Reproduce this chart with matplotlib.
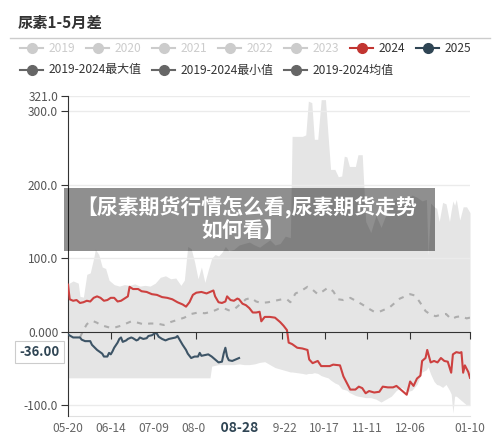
import matplotlib
matplotlib.use('Agg')
import matplotlib.pyplot as plt
import matplotlib.transforms as mtransforms
from matplotlib.lines import Line2D
from matplotlib.patches import Rectangle
import pandas as pd

plt.rcParams['font.family'] = ['Noto Sans CJK SC', 'DejaVu Sans']

# ---- data (x = days since 05-20) ----
title = '尿素1-5月差'
banner = ['【尿素期货行情怎么看,尿素期货走势', '如何看】']
dates = pd.date_range('2024-05-20', '2025-01-10')
tick_dates = ['05-20', '06-14', '07-09', '08-03', '08-28', '09-22', '10-17',
              '11-11', '12-06', '01-10']
label_dates = ['05-20', '06-14', '07-09', '08-03', '09-22', '10-17',
               '11-11', '12-06', '01-10']
cursor_date = '08-28'
cursor_value = -36.00

y_ticks = [-100, 0, 100, 200, 300, 321]
y_labels = ['-100.0', '0.000', '100.0', '200.0', '300.0', '321.0']

legend_row1 = ['2019', '2020', '2021', '2022', '2023', '2024', '2025']
legend_row1_colors = ['#cccccc'] * 5 + ['#c23531', '#2f4554']
legend_row2 = ['2019-2024最大值', '2019-2024最小值', '2019-2024均值']

red_days = [0, 1, 3, 5, 7, 9, 11, 13, 15, 17, 19, 21, 23, 25, 27, 29, 31, 33, 35, 36,
            38, 41, 43, 46, 49, 52, 55, 58, 61, 64, 67, 69, 71, 73, 75, 78, 81, 83, 85, 86,
            88, 90, 92, 93, 95, 97, 99, 100, 102, 104, 106, 108, 110, 112, 113, 115, 118,
            121, 124, 126, 128, 129, 131, 134, 137, 140, 141, 143, 146, 148, 151, 153, 155,
            159, 161, 163, 165, 168, 170, 172, 174, 176, 179, 182, 184, 187, 190, 192, 194,
            196, 198, 200, 202, 204, 206, 207, 209, 210, 212, 214, 216, 218, 220, 222, 224,
            225, 227, 229, 230, 231, 232, 234, 235]
red_vals = [64, 44, 42, 43, 39, 40, 42, 41, 46, 48, 46, 42, 43, 46, 46, 41, 42, 45, 48, 61,
            58, 58, 55, 54, 51, 50, 47, 46, 44, 40, 37, 34, 40, 50, 53, 54, 52, 54, 56, 48,
            40, 39, 41, 48, 43, 42, 45, 44, 38, 36, 32, 26, 26, 27, 14, 20, 20,
            19, 13, 8, 2, -15, -17, -22, -23, -25, -38, -43, -40, -47, -47, -47, -45,
            -46, -61, -70, -79, -79, -75, -77, -84, -81, -83, -82, -75, -76, -76, -74, -78,
            -82, -86, -68, -74, -64, -60, -40, -36, -25, -42, -40, -42, -36, -40, -41, -56,
            -31, -28, -29, -28, -56, -46, -55, -63]

navy_days = [0, 3, 7, 8, 10, 13, 14, 17, 20, 21, 23, 24, 25, 26, 27, 29, 30, 31, 32, 34,
             35, 37, 38, 40, 41, 42, 44, 46, 47, 49, 51, 52, 53, 55, 57, 59, 61, 63, 64, 65,
             67, 69, 70, 72, 74, 76, 77, 78, 80, 82, 84, 86, 88, 90, 91, 92, 93, 94, 96, 98,
             100]
navy_vals = [-4, -8, -8, -11, -13, -13, -18, -25, -30, -34, -34, -29, -31, -27, -22, -15,
             -10, -8, -14, -12, -10, -8, -9, -12, -11, -8, -10, -9, -6, -5, -2, -3, -7, -10,
             -12, -10, -9, -8, -6, -10, -18, -25, -30, -36, -34, -34, -29, -33, -32, -31,
             -34, -38, -42, -41, -30, -22, -34, -39, -40, -38, -36]

mean_days = [7, 9, 11, 13, 15, 17, 19, 22, 25, 28, 31, 34, 37, 41, 44, 48, 52, 56, 60, 64,
             68, 72, 76, 80, 84, 88, 91, 94, 97, 101, 104, 107, 110, 113, 117, 121, 125, 128,
             130, 133, 136, 140, 143, 146, 149, 152, 155, 158, 161, 165, 169, 172, 176, 179,
             182, 185, 188, 191, 194, 197, 200, 203, 206, 209, 212, 215, 218, 221, 224, 227,
             230, 233, 235]
mean_vals = [-8, 2, 10, 14, 14, 12, 9, 7, 5, 6, 8, 11, 14, 12, 10, 11, 11, 9, 13, 16,
             19, 24, 26, 25, 27, 31, 32, 29, 30, 38, 44, 46, 41, 39, 40, 42, 44, 44,
             40, 52, 55, 61, 57, 51, 55, 60, 55, 44, 43, 46, 41, 37, 31, 27,
             27, 30, 33, 39, 45, 48, 51, 49, 39, 28, 23, 21, 23, 24, 17, 20,
             21, 18, 19]

band_days = [0, 3, 6, 7, 9, 11, 13, 15, 16, 18,
             20, 22, 24, 27, 30, 33, 36, 39, 42, 45,
             48, 51, 54, 57, 60, 63, 66, 68, 70, 72,
             74, 76, 78, 80, 82, 83, 84, 86, 88, 90,
             92, 94, 97, 100, 103, 106, 109, 112, 115, 118,
             121, 124, 127, 130, 131, 134, 137, 139, 140.5, 142.5,
             144, 146, 148, 150.5, 152, 153.5, 156, 158, 160, 161.5,
             163, 164.5, 168, 169.5, 172, 174, 177, 180, 183, 186,
             189, 192, 195, 198, 201, 204, 207, 209.5, 210.5, 212,
             214, 215.5, 217, 219, 221, 223, 224, 225, 226, 227,
             229, 231, 233, 235]
max_vals = [65, 69, 66, 48, 47, 78, 80, 100, 112, 105,
            88, 86, 70, 64, 62, 64, 63, 65, 62, 63,
            62, 66, 74, 76, 72, 73, 63, 70, 116, 113,
            95, 72, 88, 67, 84, 92, 100, 105, 103, 108,
            116, 110, 112, 118, 120, 122, 118, 115, 120, 125,
            118, 120, 130, 128, 266, 266, 266, 268, 314, 312,
            262, 262, 316, 316, 268, 221, 221, 211, 212, 239,
            238, 225, 225, 241, 241, 150, 135, 158, 142, 160,
            175, 182, 185, 178, 186, 183, 178, 180, 104, 175,
            170, 168, 150, 176, 174, 150, 165, 178, 172, 180,
            152, 170, 170, 162]
min_vals = [-63, -63, -63, -63, -63, -63, -63, -63, -63, -63,
            -63, -63, -63, -63, -63, -63, -63, -63, -63, -63,
            -63, -63, -63, -63, -63, -63, -63, -63, -63, -63,
            -63, -63, -63, -63, -63, -63, -47, -46, -45, -45,
            -45, -45, -45, -44, -45, -45, -44, -42, -41, -45,
            -49, -51, -53, -55, -55, -56, -57, -58, -57, -57,
            -56, -57, -60, -62, -63, -66, -70, -72, -78, -79,
            -80, -83, -87, -88, -89, -90, -90, -92, -96, -92,
            -88, -80, -76, -82, -80, -72, -55, -52, -48, -58,
            -68, -72, -73, -76, -72, -80, -85, -111, -88, -88,
            -92, -96, -100, -101]

day_of = {d.strftime('%m-%d'): i for i, d in enumerate(dates)}

# ---- figure ----
fig = plt.figure(figsize=(5, 4.4), dpi=100)
ax = fig.add_axes([68 / 500, 24 / 440, 402 / 500, 320 / 440])
ax.set_xlim(0, len(dates) - 1)
ax.set_ylim(-115, 321)

ax.fill_between(band_days, min_vals, max_vals, color='#e5e5e5', lw=0, zorder=1)
for v in y_ticks:
    if v != 0:
        ax.axhline(v, color='#ebebeb', lw=1, zorder=2)

ax.plot(mean_days, mean_vals, color='#adadad', lw=1.5, dashes=(2.5, 3), zorder=5)
ax.plot(red_days, red_vals, color='#cd4140', lw=1.5, zorder=6)
ax.plot(navy_days, navy_vals, color='#3d5466', lw=1.5, zorder=6)

# axes styling
for s in ['top', 'right']:
    ax.spines[s].set_visible(False)
ax.spines['left'].set_color('#333333')
ax.spines['bottom'].set_position(('data', 0))
ax.spines['bottom'].set_color('#333333')
ax.spines['bottom'].set_zorder(7)
ax.set_xticks([day_of[d] for d in tick_dates if d != cursor_date])
ax.tick_params(axis='x', direction='out', length=5, color='#333333', labelbottom=False)
ax.set_yticks(y_ticks, y_labels)
ax.tick_params(axis='y', direction='out', length=5, color='#333333',
               labelsize=8.6, labelcolor='#555555', pad=2)

sec = ax.secondary_xaxis('bottom')
sec.set_xticks([day_of[d] for d in label_dates], label_dates)
sec.tick_params(length=0, pad=4, labelsize=8.6, labelcolor='#666666')
sec.spines['bottom'].set_color('#e0e0e0')

# crosshair labels
ax.annotate(f'{cursor_value:.2f}', xy=(0, cursor_value), xytext=(-6, 4.5),
            textcoords='offset points', ha='right', va='center', fontsize=9.5,
            fontweight='bold', color='#2f4554', annotation_clip=False, zorder=9,
            bbox=dict(boxstyle='square,pad=0.3', fc='white', ec='#cccccc', lw=0.8))
trans = mtransforms.blended_transform_factory(ax.transData, ax.transAxes)
ax.text(day_of[cursor_date], -0.037, '    ' + cursor_date + '    ', transform=trans,
        ha='center', va='center', fontsize=10, fontweight='bold', color='#2f4554',
        zorder=9, clip_on=False,
        bbox=dict(boxstyle='square,pad=0.2', fc='white', ec='none'))

# title and separator
fig.text(18 / 500, 1 - 23 / 440, title, fontsize=11, fontweight='bold',
         color='#333333', va='center')
fig.add_artist(Line2D([10 / 500, 490 / 500], [1 - 38 / 440] * 2, color='#cccccc', lw=1))

# legend
def legend_item(x, y, label, mcolor, tcolor):
    fy = 1 - y / 440
    fig.add_artist(Line2D([x / 500, (x + 23) / 500], [fy, fy], color=mcolor, lw=1.5))
    fig.add_artist(Line2D([(x + 11.5) / 500], [fy], color=mcolor, marker='o',
                          markersize=7, lw=0))
    fig.text((x + 29) / 500, fy, label, fontsize=8.6, color=tcolor, va='center')

for i, (name, c) in enumerate(zip(legend_row1, legend_row1_colors)):
    legend_item(20 + 66 * i, 48, name, c, '#cccccc' if c == '#cccccc' else '#333333')
for i, name in enumerate(legend_row2):
    legend_item(20 + 132 * i, 70, name, '#666666', '#333333')

# banner overlay
fig.add_artist(Rectangle((64 / 500, (440 - 251) / 440), 371 / 500, 63 / 440,
                         transform=fig.transFigure, fc='black', alpha=0.44, lw=0,
                         zorder=10))
fig.text(247 / 500, 1 - 207 / 440, banner[0], fontsize=15, fontweight='bold',
         color='white', ha='center', va='center', zorder=11)
fig.text(243 / 500, 1 - 230 / 440, banner[1], fontsize=15, fontweight='bold',
         color='white', ha='center', va='center', zorder=11)

fig.savefig('out.png', dpi=100)
